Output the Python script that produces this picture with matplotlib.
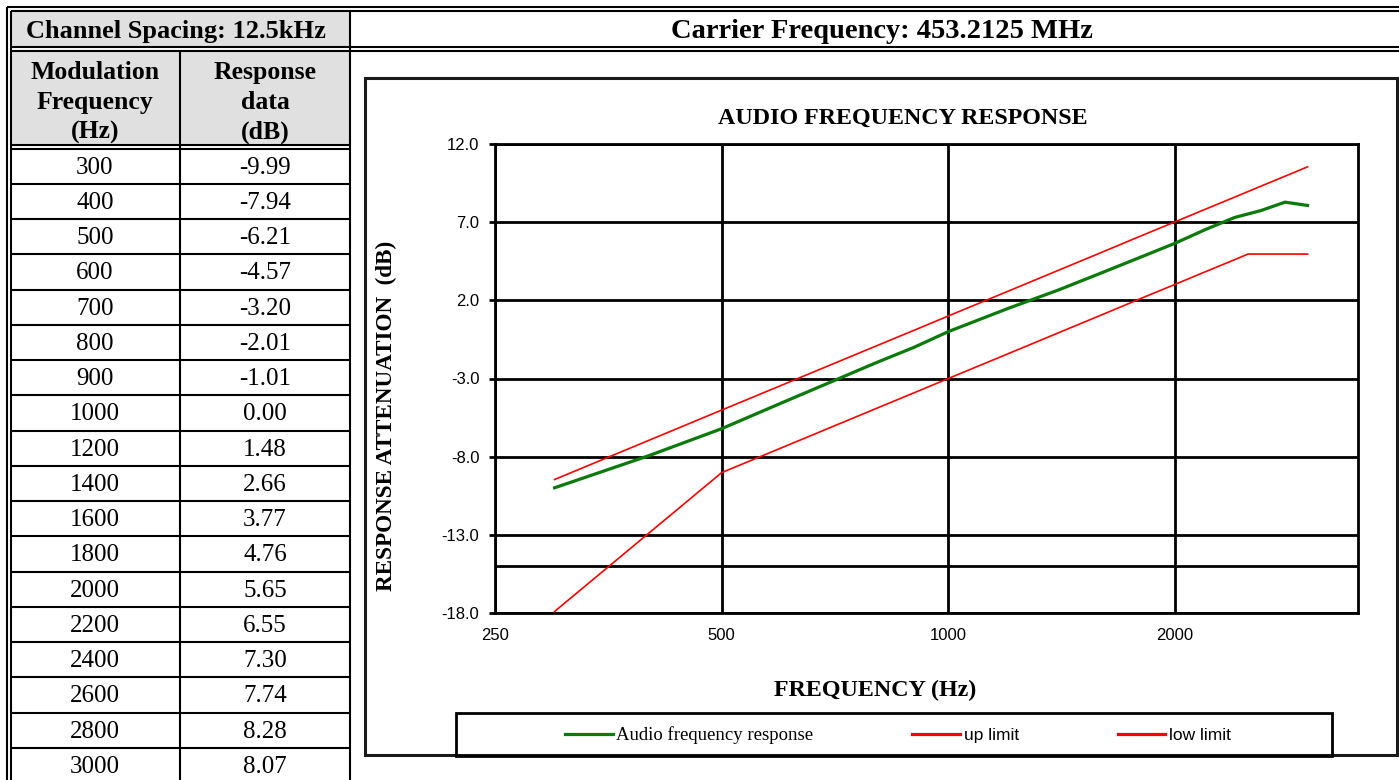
import matplotlib
matplotlib.use("Agg")
import matplotlib.pyplot as plt
from matplotlib.lines import Line2D
from matplotlib.patches import Rectangle
from matplotlib.ticker import FixedLocator, NullLocator

W, H = 1399, 780

# table / measured data
freqs = [300, 400, 500, 600, 700, 800, 900, 1000, 1200, 1400, 1600, 1800,
         2000, 2200, 2400, 2600, 2800, 3000]
resp = [-9.99, -7.94, -6.21, -4.57, -3.20, -2.01, -1.01, 0.00, 1.48, 2.66,
        3.77, 4.76, 5.65, 6.55, 7.30, 7.74, 8.28, 8.07]

# limit masks
up_freqs = freqs
up_vals = [-9.46, -6.96, -5.02, -3.44, -2.10, -0.94, 0.08, 1.00, 2.58, 3.92,
           5.08, 6.11, 7.02, 7.85, 8.60, 9.30, 9.94, 10.54]
low_freqs = [300, 400, 500, 600, 700, 800, 900, 1000, 1200, 1400, 1600, 1800,
             2000, 2200, 2400, 2500, 2600, 2800, 3000]
low_vals = [-17.9, -12.9, -9.02, -7.44, -6.10, -4.94, -3.92, -3.00, -1.42,
            -0.08, 1.08, 2.11, 3.02, 3.85, 4.60, 4.96, 4.96, 4.96, 4.96]

y_ticks = [-18, -13, -8, -3, 2, 7, 12]
x_ticks = [250, 500, 1000, 2000]

SERIF = "Liberation Serif"
SANS = "Liberation Sans"


def fx(x):
    return x / W


def fy(y):
    return 1 - y / H


def hline(fig, x0, x1, y, lw=1.5, color="black"):
    fig.add_artist(Line2D([fx(x0), fx(x1)], [fy(y), fy(y)], transform=fig.transFigure,
                          color=color, lw=lw, solid_capstyle="butt"))


def vline(fig, x, y0, y1, lw=1.5, color="black"):
    fig.add_artist(Line2D([fx(x), fx(x)], [fy(y0), fy(y1)], transform=fig.transFigure,
                          color=color, lw=lw, solid_capstyle="butt"))


def box(fig, x0, y0, x1, y1, **kw):
    fig.add_artist(Rectangle((fx(x0), fy(y1)), fx(x1) - fx(x0), fy(y0) - fy(y1),
                             transform=fig.transFigure, **kw))


fig = plt.figure(figsize=(W / 100, H / 100), dpi=100)
fig.patch.set_facecolor("white")

# ---- table ----
box(fig, 12, 12, 349, 46, facecolor="#e0e0e0", edgecolor="none")
box(fig, 12, 51, 349, 145, facecolor="#e0e0e0", edgecolor="none")

hline(fig, 7, W, 6.5)
hline(fig, 11, W, 10.5)
hline(fig, 11, W, 46.5)
hline(fig, 11, W, 50.5)
hline(fig, 11, 350, 145)
hline(fig, 11, 350, 148.5)
vline(fig, 7, 6.5, H)
vline(fig, 11, 10.5, H)
vline(fig, 350, 10.5, H)
vline(fig, 180, 50.5, H)

row_top = 148.5
row_h = 35.25
for i, (f, r) in enumerate(zip(freqs, resp)):
    y0 = row_top + i * row_h
    if i > 0:
        hline(fig, 11, 350, y0)
    yc = y0 + row_h / 2 + 1.5
    fig.text(fx(95), fy(yc), str(f), ha="center", va="center",
             family=SERIF, fontsize=18)
    fig.text(fx(265), fy(yc), f"{r:.2f}", ha="center", va="center",
             family=SERIF, fontsize=18)

fig.text(fx(176), fy(31.5), "Channel Spacing: 12.5kHz", ha="center", va="center",
         family=SERIF, fontsize=19, fontweight="bold")
fig.text(fx(95), fy(102.5), "Modulation\nFrequency\n(Hz)", ha="center", va="center",
         family=SERIF, fontsize=18.5, fontweight="bold", linespacing=1.4)
fig.text(fx(265), fy(102.5), "Response\ndata\n(dB)", ha="center", va="center",
         family=SERIF, fontsize=18.5, fontweight="bold", linespacing=1.4)
fig.text(fx(882), fy(31.5), "Carrier Frequency: 453.2125 MHz", ha="center", va="center",
         family=SERIF, fontsize=20.5, fontweight="bold")

# ---- chart frame ----
box(fig, 365, 78, 1397, 755, facecolor="none", edgecolor="#1a1a1a", lw=2.2)

ax = fig.add_axes([fx(495), fy(613), fx(1358) - fx(495), fy(144) - fy(613)])
ax.set_xscale("log")
ax.set_xlim(250, 3500)
ax.set_ylim(-18, 12)

ax.plot(freqs, resp, color="#0a7a0a", lw=2.3, zorder=4, label="Audio frequency response")
ax.plot(up_freqs, up_vals, color="#ff0000", lw=1.2, zorder=3, label="up limit")
ax.plot(low_freqs, low_vals, color="#ff0000", lw=1.2, zorder=3, label="low limit")

ax.xaxis.set_major_locator(FixedLocator(x_ticks))
ax.xaxis.set_minor_locator(NullLocator())
ax.set_xticklabels([str(v) for v in x_ticks])
ax.set_yticks(y_ticks)
ax.set_yticklabels([f"{v:.1f}" for v in y_ticks])
ax.grid(True, which="major", color="black", lw=2)
ax.axhline(-15, color="black", lw=2)
ax.set_axisbelow(True)
for s in ax.spines.values():
    s.set_linewidth(2)
ax.tick_params(axis="y", length=4.3, width=2, pad=7, labelsize=12)
ax.tick_params(axis="x", length=0, pad=11, labelsize=12)
for t in ax.get_xticklabels() + ax.get_yticklabels():
    t.set_family(SANS)

fig.text(fx(903), fy(118), "AUDIO FREQUENCY RESPONSE", ha="center", va="center",
         family=SERIF, fontsize=17.3, fontweight="bold")
fig.text(fx(875), fy(690), "FREQUENCY (Hz)", ha="center", va="center",
         family=SERIF, fontsize=17.3, fontweight="bold")
fig.text(fx(386), fy(416), "RESPONSE ATTENUATION  (dB)", ha="center", va="center",
         rotation=90, family=SERIF, fontsize=16.7, fontweight="bold")

# legend box
box(fig, 456, 713, 1332, 756, facecolor="none", edgecolor="black", lw=2)
handles, labels = ax.get_legend_handles_labels()
leg = fig.legend(handles, labels, loc="center", bbox_to_anchor=(fx(898), fy(735)),
                 ncol=3, frameon=False, handlelength=2.75, handletextpad=0.2,
                 columnspacing=5.7, fontsize=12.5)
texts = leg.get_texts()
texts[0].set_family(SERIF)
texts[0].set_fontsize(13.5)
for t in texts[1:]:
    t.set_family(SANS)
for ln in leg.get_lines():
    ln.set_linewidth(2.3)

fig.savefig("out.png", dpi=100)
